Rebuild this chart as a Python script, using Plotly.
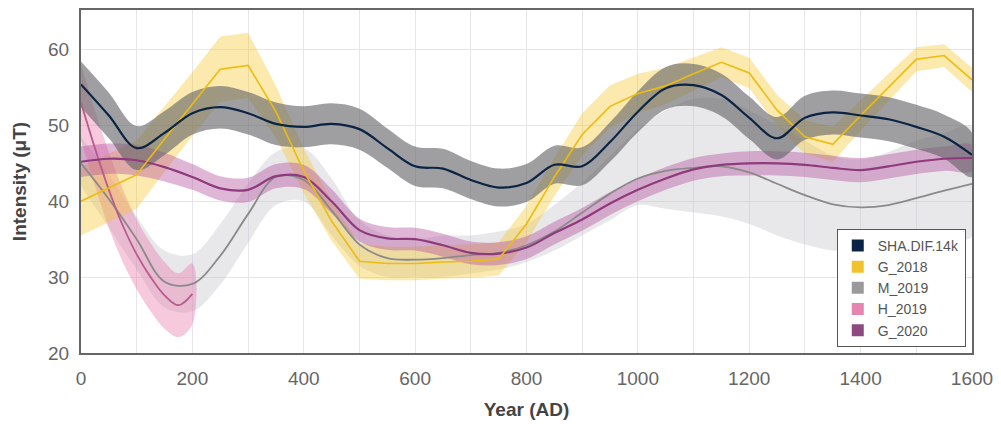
import plotly.graph_objects as go

# ---- data -------------------------------------------------------------
years = list(range(0, 1601, 50))

# SHA.DIF.14k model: mean intensity and 1-sigma half-width (uT)
sha_mean = [55.4, 51.3, 47.0, 49.0, 51.6, 52.4, 51.6, 50.2, 49.8, 50.2, 49.5,
            47.0, 44.6, 44.3, 42.8, 41.8, 42.4, 44.8, 44.6, 47.8, 51.8, 54.9,
            55.3, 54.0, 51.0, 48.3, 51.0, 51.7, 51.3, 50.8, 49.8, 48.5, 46.1]
sha_err = [3.0, 3.0, 2.9, 2.9, 2.8, 2.8, 2.8, 2.8, 2.7, 2.7, 2.7,
           2.6, 2.6, 2.6, 2.5, 2.5, 2.5, 2.5, 2.5, 2.6, 2.7, 2.8,
           2.8, 2.8, 2.8, 2.8, 2.9, 2.9, 2.9, 2.9, 2.9, 2.9, 2.9]

# G_2018 curve
g18_mean = [40.0, 41.8, 43.5, 48.2, 52.8, 57.4, 57.9, 51.8, 44.0, 37.4, 32.1,
            31.8, 31.8, 32.0, 32.1, 32.4, 37.0, 43.2, 48.8, 52.5, 54.2, 55.2,
            56.8, 58.3, 56.9, 52.0, 48.5, 47.5, 51.3, 55.0, 58.7, 59.2, 56.0]
g18_err = [4.5, 4.5, 4.5, 4.3, 4.2, 4.3, 4.3, 3.4, 2.9, 2.6, 2.3,
           2.2, 2.2, 2.2, 2.2, 2.2, 2.4, 2.5, 2.8, 2.8, 2.6, 2.4,
           2.2, 2.0, 2.0, 2.0, 2.2, 2.3, 2.0, 1.8, 1.6, 1.5, 1.6]

# M_2019 curve with asymmetric envelope
m19_mean = [45.0, 40.3, 35.0, 29.4, 29.1, 32.8, 38.3, 43.2, 42.8, 38.8, 34.3,
            32.5, 32.3, 32.5, 32.9, 33.2, 34.2, 36.0, 38.5, 41.0, 43.0, 44.0,
            44.4, 44.6, 43.8, 42.3, 40.8, 39.6, 39.2, 39.5, 40.4, 41.4, 42.3]
m19_low = [42.0, 36.5, 31.0, 26.0, 25.5, 29.0, 34.5, 39.5, 40.0, 35.5, 31.5,
           30.0, 30.0, 30.0, 30.5, 31.0, 32.0, 33.5, 35.5, 37.5, 39.5, 39.0,
           38.5, 38.0, 37.0, 35.5, 34.3, 33.5, 33.5, 34.0, 34.8, 35.3, 35.3]
m19_high = [48.5, 43.5, 38.0, 33.5, 33.0, 37.0, 42.3, 46.5, 47.0, 43.0, 37.5,
            35.5, 35.0, 35.5, 35.5, 36.0, 37.0, 39.5, 42.5, 46.0, 49.5, 52.0,
            53.5, 53.5, 52.0, 50.0, 48.0, 46.0, 45.5, 46.5, 48.0, 49.0, 49.8]

# H_2019 curve (covers 0-200 AD only)
h19_years = [0, 25, 50, 75, 100, 125, 150, 175, 200]
h19_mean = [53.0, 47.0, 41.5, 36.8, 33.0, 30.0, 27.6, 26.3, 27.8]
h19_err = [5.0, 5.0, 5.0, 4.8, 4.6, 4.5, 4.4, 4.2, 4.0]

# G_2020 curve
g20_mean = [45.2, 45.6, 45.4, 44.5, 43.2, 41.7, 41.5, 43.3, 43.2, 40.0, 36.2,
            35.1, 35.0, 34.2, 33.2, 33.1, 33.9, 35.8, 37.6, 39.7, 41.5, 43.0,
            44.2, 44.8, 45.0, 45.0, 44.8, 44.4, 44.1, 44.6, 45.2, 45.6, 45.7]
g20_err = [2.0, 2.0, 2.0, 1.9, 1.7, 1.6, 1.6, 1.6, 1.6, 1.6, 1.5,
           1.5, 1.5, 1.5, 1.5, 1.5, 1.5, 1.5, 1.5, 1.5, 1.5, 1.5,
           1.5, 1.5, 1.6, 1.6, 1.6, 1.6, 1.6, 1.6, 1.6, 1.6, 1.7]

legend_names = ["SHA.DIF.14k", "G_2018", "M_2019", "H_2019", "G_2020"]
legend_colors = ["#0b2444", "#f2c12e", "#9a9a9a", "#e486b0", "#8e4a80"]

x_ticks = [0, 200, 400, 600, 800, 1000, 1200, 1400, 1600]
y_ticks = [20, 30, 40, 50, 60]

# ---- helpers ----------------------------------------------------------
def band(x, lo, hi, color, shape):
    return go.Scatter(
        x=list(x) + list(x)[::-1],
        y=list(hi) + list(lo)[::-1],
        fill="toself", fillcolor=color, mode="lines",
        line=dict(width=0, shape=shape), hoverinfo="skip", showlegend=False,
    )


def curve(x, y, color, width, shape):
    return go.Scatter(x=x, y=y, mode="lines",
                      line=dict(color=color, width=width, shape=shape),
                      showlegend=False)


def pm(mean, err, sign):
    return [m + sign * e for m, e in zip(mean, err)]


fig = go.Figure()

# envelopes
fig.add_trace(band(years, m19_low, m19_high, "rgba(185,185,192,0.32)", "spline"))
fig.add_trace(band(h19_years, pm(h19_mean, h19_err, -1), pm(h19_mean, h19_err, 1),
                   "rgba(232,120,170,0.40)", "spline"))
fig.add_trace(band(years, pm(g18_mean, g18_err, -1), pm(g18_mean, g18_err, 1),
                   "rgba(245,196,40,0.38)", "linear"))
fig.add_trace(band(years, pm(g20_mean, g20_err, -1), pm(g20_mean, g20_err, 1),
                   "rgba(180,80,160,0.42)", "spline"))
fig.add_trace(band(years, pm(sha_mean, sha_err, -1), pm(sha_mean, sha_err, 1),
                   "rgba(100,100,104,0.62)", "spline"))

# central curves
fig.add_trace(curve(years, m19_mean, "#8a8a8a", 1.8, "spline"))
fig.add_trace(curve(h19_years, h19_mean, "#b85c8c", 1.8, "spline"))
fig.add_trace(curve(years, g20_mean, "#8e3a7c", 2.2, "spline"))
fig.add_trace(curve(years, g18_mean, "#ecbc10", 1.6, "linear"))
fig.add_trace(curve(years, sha_mean, "#0b2444", 2.2, "spline"))

# legend entries as square swatches
for name, col in zip(legend_names, legend_colors):
    fig.add_trace(go.Scatter(x=[None], y=[None], mode="markers", name=name,
                             marker=dict(symbol="square", size=10, color=col)))

font_family = "Liberation Sans, Arial, sans-serif"

fig.update_layout(
    width=1001, height=428,
    margin=dict(l=81, r=23, t=8, b=75),
    paper_bgcolor="white", plot_bgcolor="white",
    font=dict(family=font_family, color="#555555"),
    legend=dict(
        x=0.993, y=0.018, xanchor="right", yanchor="bottom",
        bgcolor="white", bordercolor="#555555", borderwidth=1,
        font=dict(size=14, color="#555555"),
        itemsizing="constant", tracegroupgap=0, itemwidth=30,
    ),
    xaxis=dict(
        range=[0, 1600], tickvals=x_ticks,
        ticktext=[str(v) for v in x_ticks],
        tickfont=dict(size=19, color="#666666"),
        ticks="outside", ticklen=7, tickcolor="rgba(0,0,0,0)",
        showgrid=True, gridcolor="#e6e6ea", gridwidth=1,
        minor=dict(dtick=100, showgrid=True, gridcolor="#e6e6ea", gridwidth=1),
        showline=True, linecolor="#666666", linewidth=2, mirror=True,
        zeroline=False,
        title=dict(text="<b>Year (AD)</b>", standoff=15,
                   font=dict(size=19, color="#444444")),
    ),
    yaxis=dict(
        range=[20, 65.2], tickvals=y_ticks,
        ticktext=[str(v) for v in y_ticks],
        tickfont=dict(size=19, color="#666666"),
        ticks="outside", ticklen=6, tickcolor="rgba(0,0,0,0)",
        showgrid=True, gridcolor="#e6e6ea", gridwidth=1,
        showline=True, linecolor="#666666", linewidth=2, mirror=True,
        zeroline=False,
        title=dict(text="<b>Intensity (μT)</b>", standoff=16,
                   font=dict(size=19, color="#444444")),
    ),
)

fig.write_html("out.html")
